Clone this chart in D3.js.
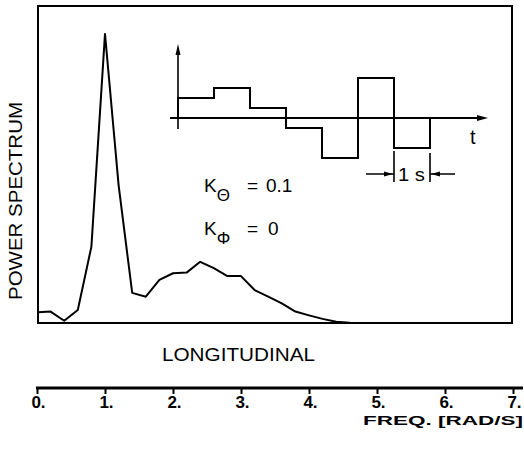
<!DOCTYPE html>
<html><head><meta charset="utf-8">
<script src="https://cdn.jsdelivr.net/npm/d3@7"></script>
<style>
html,body{margin:0;padding:0;background:#fff;}
svg{display:block;}
text{font-family:"Liberation Sans",Arial,Helvetica,sans-serif;fill:#000;}
</style></head>
<body>
<svg id="chart" width="524" height="470"></svg>
<script>
// ---- data ----
const freq  = [0, 0.2, 0.4, 0.6, 0.8, 1.0, 1.2, 1.4, 1.6, 1.8, 2.0, 2.2, 2.4, 2.6, 2.8, 3.0, 3.2, 3.4, 3.6, 3.8, 4.0, 4.2, 4.4, 4.6, 5.0, 6.0, 7.0];
const power = [3.4, 3.6, 0.7, 4.1, 24.1, 91.2, 43.5, 9.5, 8.3, 13.6, 15.7, 15.9, 19.3, 17.3, 14.8, 14.8, 10.4, 8.3, 6.2, 3.6, 2.4, 1.3, 0.4, 0.1, 0, 0, 0];
const xTicks = [0, 1, 2, 3, 4, 5, 6, 7];
const xTickLabels = ["0.", "1.", "2.", "3.", "4.", "5.", "6.", "7."];
const inputTimes  = [0, 1, 2, 3, 4, 5, 6, 7];
const inputLevels = [2, 3, 1, -1, -4, 4, -3];

const svg = d3.select("#chart");

// ---- scales ----
const x = d3.scaleLinear().domain([0, 7]).range([37, 513]);
const y = d3.scaleLinear().domain([0, 100]).range([323, 6]);
const tx = d3.scaleLinear().domain([0, 7]).range([178, 430]);
const ty = d3.scaleLinear().domain([-4, 4]).range([158, 78]);

// defs
const defs = svg.append("defs");
defs.append("clipPath").attr("id", "clip").append("rect")
  .attr("x", 38).attr("y", 6).attr("width", 474).attr("height", 317);

// ---- frame ----
svg.append("rect").attr("x", 38).attr("y", 6).attr("width", 474).attr("height", 317)
  .attr("fill", "none").attr("stroke", "#000").attr("stroke-width", 2);

// ---- spectrum curve ----
const pts = freq.map((f, i) => [f, power[i]]);
svg.append("path")
  .attr("clip-path", "url(#clip)")
  .attr("d", d3.line().x(d => x(d[0])).y(d => y(d[1]))(pts))
  .attr("fill", "none").attr("stroke", "#000").attr("stroke-width", 2)
  .attr("stroke-linejoin", "round");

// ---- inset input signal ----
const inset = svg.append("g");
inset.append("line").attr("x1", 170).attr("x2", 480).attr("y1", ty(0)).attr("y2", ty(0))
  .attr("stroke", "#000").attr("stroke-width", 2);
inset.append("path")
  .attr("d", `M488,${ty(0)} L477,${ty(0) - 3} L477,${ty(0) + 3} Z`).attr("fill", "#000");
inset.append("line").attr("x1", tx(0)).attr("x2", tx(0)).attr("y1", 52).attr("y2", 129)
  .attr("stroke", "#000").attr("stroke-width", 1.6);
inset.append("path")
  .attr("d", `M${tx(0)},44 L${tx(0) - 2.5},55 L${tx(0) + 2.5},55 Z`).attr("fill", "#000");
const stepPts = [[0, 0]];
inputLevels.forEach((v, i) => { stepPts.push([inputTimes[i], v]); stepPts.push([inputTimes[i + 1], v]); });
stepPts.push([inputTimes[inputTimes.length - 1], 0]);
inset.append("path")
  .attr("d", d3.line().x(d => tx(d[0])).y(d => ty(d[1]))(stepPts))
  .attr("fill", "none").attr("stroke", "#000").attr("stroke-width", 2);
inset.append("text").attr("x", 470).attr("y", 144).attr("font-size", 20).text("t");

// 1 s dimension
const d0 = tx(6), d1 = tx(7), dy = 174;
inset.append("line").attr("x1", d0).attr("x2", d0).attr("y1", 151).attr("y2", 182).attr("stroke", "#000").attr("stroke-width", 1.6);
inset.append("line").attr("x1", d1).attr("x2", d1).attr("y1", 153).attr("y2", 182).attr("stroke", "#000").attr("stroke-width", 1.6);
inset.append("line").attr("x1", 366).attr("x2", d0).attr("y1", dy).attr("y2", dy).attr("stroke", "#000").attr("stroke-width", 1.5);
inset.append("path").attr("d", `M${d0 - 1},${dy} L${d0 - 10},${dy - 2.5} L${d0 - 10},${dy + 2.5} Z`).attr("fill", "#000");
inset.append("line").attr("x1", d1).attr("x2", 455).attr("y1", dy).attr("y2", dy).attr("stroke", "#000").attr("stroke-width", 1.5);
inset.append("path").attr("d", `M${d1 + 1},${dy} L${d1 + 10},${dy - 2.5} L${d1 + 10},${dy + 2.5} Z`).attr("fill", "#000");
inset.append("text").attr("x", 411.5).attr("y", 181).attr("text-anchor", "middle")
  .attr("font-size", 19).attr("textLength", 27).attr("lengthAdjust", "spacingAndGlyphs").text("1 s");

// ---- gain annotations ----
const k1 = svg.append("text").attr("x", 204).attr("y", 192).attr("font-size", 19);
k1.append("tspan").text("K");
k1.append("tspan").attr("dy", 9).attr("font-size", 17).text("Θ");
k1.append("tspan").attr("dy", -9).attr("x", 247).text("=");
k1.append("tspan").attr("x", 266).text("0.1");
const k2 = svg.append("text").attr("x", 204).attr("y", 235).attr("font-size", 19);
k2.append("tspan").text("K");
k2.append("tspan").attr("dy", 9).attr("font-size", 17).text("Φ");
k2.append("tspan").attr("dy", -9).attr("x", 247).text("=");
k2.append("tspan").attr("x", 268).text("0");

// ---- labels ----
svg.append("text").attr("transform", "translate(22,201) rotate(-90)")
  .attr("text-anchor", "middle").attr("font-size", 19)
  .attr("textLength", 198).attr("lengthAdjust", "spacingAndGlyphs").text("POWER  SPECTRUM");
svg.append("text").attr("x", 238.5).attr("y", 361).attr("text-anchor", "middle")
  .attr("font-size", 18).attr("textLength", 153).attr("lengthAdjust", "spacingAndGlyphs").text("LONGITUDINAL");

// ---- bottom frequency axis ----
svg.append("line").attr("x1", 36).attr("x2", 523).attr("y1", 388).attr("y2", 388)
  .attr("stroke", "#000").attr("stroke-width", 3);
const axis = d3.axisBottom(x).tickValues(xTicks).tickSize(7).tickSizeOuter(0)
  .tickFormat((d, i) => xTickLabels[i]);
const ag = svg.append("g").attr("transform", "translate(0,387)").call(axis);
ag.select(".domain").remove();
ag.selectAll(".tick line").attr("stroke", "#000").attr("stroke-width", 2);
ag.selectAll(".tick text").attr("font-family", "'Liberation Sans',Arial,sans-serif")
  .attr("font-size", 17).attr("font-weight", "bold").attr("fill", "#000")
  .attr("dy", 0).attr("y", 21).attr("dx", 1);

svg.append("text").attr("x", 523).attr("y", 425).attr("text-anchor", "end")
  .attr("font-size", 13).attr("font-weight", "bold")
  .attr("textLength", 160).attr("lengthAdjust", "spacingAndGlyphs").text("FREQ.  [RAD/S]");
</script>
</body></html>
